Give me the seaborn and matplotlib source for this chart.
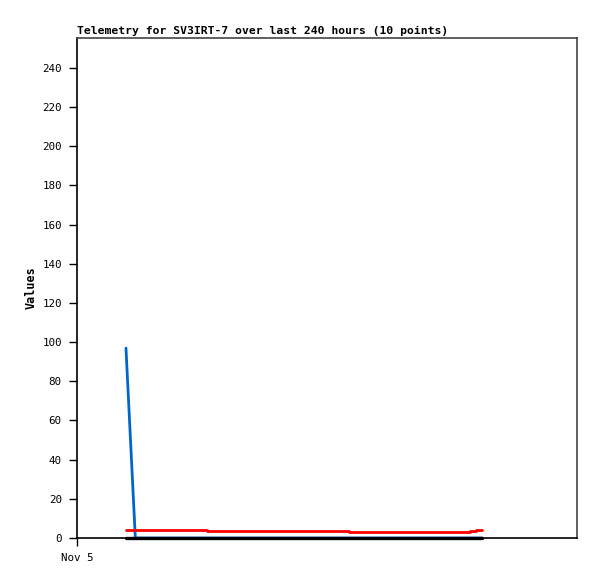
import numpy as np
import matplotlib
matplotlib.use("Agg")
import matplotlib.pyplot as plt
import seaborn as sns

# Hours since Nov 5 00:00 for each telemetry point
hours = [23.5, 28.0, 45.0, 62.5, 96.0, 130.5, 160.0, 188.5, 191.5, 194.5]
blue_vals = [97, 0, 0, 0, 0, 0, 0, 0, 0, 0]
red_vals = [3.9, 3.9, 3.9, 3.4, 3.4, 2.9, 2.9, 3.4, 3.9, 3.9]
black_vals = [0, 0, 0, 0, 0, 0, 0, 0, 0, 0]

y_ticks = list(range(0, 241, 20))
x_ticks = [0]
x_labels = ["Nov 5"]

sns.set_style("white")
plt.rcParams['font.family'] = ['DejaVu Sans Mono']
plt.rcParams['text.color'] = 'black'
plt.rcParams['axes.labelcolor'] = 'black'
plt.rcParams['xtick.color'] = 'black'
plt.rcParams['ytick.color'] = 'black'

fig = plt.figure(figsize=(5.97, 5.79), dpi=100)
ax = fig.add_axes([77 / 597, 1 - 538 / 579, 500 / 597, 500 / 579])

sns.lineplot(x=hours, y=blue_vals, ax=ax, color="#0066cc", linewidth=2)
sns.lineplot(x=hours, y=black_vals, ax=ax, color="black", linewidth=2.4,
             drawstyle="steps-post")
sns.lineplot(x=hours, y=red_vals, ax=ax, color="#ff0000", linewidth=2,
             drawstyle="steps-post")
ax.lines[1].set_clip_on(False)

ax.set_xlim(0, 240)
ax.set_ylim(0, 255.3)
ax.set_yticks(y_ticks)
ax.set_xticks(x_ticks)
ax.set_xticklabels(x_labels)
ax.tick_params(axis="both", direction="out", length=6, width=1,
               labelsize=7.8, pad=5, left=True, bottom=True)

for side in ["left", "bottom"]:
    ax.spines[side].set_color("black")
    ax.spines[side].set_linewidth(1.2)
for side in ["top", "right"]:
    ax.spines[side].set_color("#444444")
    ax.spines[side].set_linewidth(1.2)

ax.set_ylabel("Values", fontsize=8.5, fontweight="bold", labelpad=3)
ax.set_title("Telemetry for SV3IRT-7 over last 240 hours (10 points)",
             fontsize=8.2, fontweight="bold", loc="left", pad=3)

fig.savefig("out.png", dpi=100)
